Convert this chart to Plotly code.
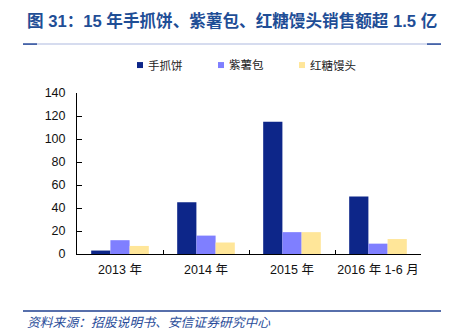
import plotly.graph_objects as go

# Sales (million yuan) by period
categories = ["2013 年", "2014 年", "2015 年", "2016 年 1-6 月"]
shouzhuabing = [3, 45, 115, 50]
zishubao = [12, 16, 19, 9]
hongtang_mantou = [7, 10, 19, 13]

series_names = ["手抓饼", "紫薯包", "红糖馒头"]
series_colors = ["#0D2689", "#7F7FFF", "#FFE699"]

W, H = 449, 335
L, R = 77, 421          # plot area left/right (px)
T, B = 93, 254.3        # plot area top/bottom (px)


def px(x):
    return (x - L) / (R - L)


def py(y):
    return (B - y) / (B - T)


num_font = "Liberation Sans, Arial, Noto Sans CJK SC, sans-serif"
cjk_font = "Liberation Sans, Noto Sans CJK SC, sans-serif"

fig = go.Figure()
for name, vals, col in zip(series_names, [shouzhuabing, zishubao, hongtang_mantou], series_colors):
    fig.add_trace(go.Bar(x=categories, y=vals, name=name, showlegend=False,
                         marker=dict(color=col, line=dict(width=0))))

shapes = [
    # rule under the title
    dict(type="line", xref="paper", yref="paper", x0=px(23), x1=px(441), y0=py(44), y1=py(44),
         line=dict(color="#C8D0EA", width=1.5)),
    dict(type="line", xref="paper", yref="paper", x0=px(23), x1=px(37), y0=py(44), y1=py(44),
         line=dict(color="#2A4D9A", width=1.5)),
    dict(type="line", xref="paper", yref="paper", x0=px(427), x1=px(441), y0=py(44), y1=py(44),
         line=dict(color="#2A4D9A", width=1.5)),
    # rule above the source note
    dict(type="line", xref="paper", yref="paper", x0=px(23), x1=px(441), y0=py(311.5), y1=py(311.5),
         line=dict(color="#1F3F8F", width=1.5)),
]

annotations = [
    dict(text="<b>图 31：15 年手抓饼、紫薯包、红糖馒头销售额超 1.5 亿</b>", xref="paper", yref="paper",
         x=px(25), y=py(21), xanchor="left", yanchor="middle", showarrow=False,
         font=dict(family=cjk_font, size=16.6, color="#1F4E96")),
    dict(text="<i>资料来源：招股说明书、安信证券研究中心</i>", xref="paper", yref="paper",
         x=px(25), y=py(322), xanchor="left", yanchor="middle", showarrow=False,
         font=dict(family="Noto Sans CJK SC, sans-serif", size=12.8, color="#2A4D9A")),
]

# legend: small square swatch followed by the series name
legend_x = [140, 221, 302]
legend_y = 65
for name, col, lx in zip(series_names, series_colors, legend_x):
    shapes.append(dict(type="rect", xref="paper", yref="paper",
                       x0=px(lx - 3), x1=px(lx + 3), y0=py(legend_y + 3), y1=py(legend_y - 3),
                       fillcolor=col, line=dict(width=0)))
    annotations.append(dict(text=name, xref="paper", yref="paper", x=px(lx + 6), y=py(legend_y),
                            xanchor="left", yanchor="middle", showarrow=False,
                            font=dict(family=cjk_font, size=11.5, color="#222")))

fig.update_layout(
    width=W, height=H,
    margin=dict(l=L, r=W - R, t=T, b=H - B),
    paper_bgcolor="white", plot_bgcolor="white",
    barmode="group", bargap=0.33, bargroupgap=0,
    showlegend=False,
    shapes=shapes, annotations=annotations,
    font=dict(family=num_font, color="#111"),
)

fig.update_yaxes(range=[0, 140], dtick=20, showgrid=False, zeroline=False,
                 showline=True, linecolor="#000", linewidth=1,
                 ticks="inside", ticklen=5, tickcolor="#000", ticklabelstandoff=8,
                 tickfont=dict(family=num_font, size=12.5, color="#111"))
fig.update_xaxes(showgrid=False, showline=True, linecolor="#000", linewidth=1,
                 ticks="inside", ticklen=4, tickcolor="#000", tickson="boundaries",
                 tickangle=0, ticklabelstandoff=4,
                 tickfont=dict(family=cjk_font, size=12.5, color="#111"))

fig.write_html("out.html")
